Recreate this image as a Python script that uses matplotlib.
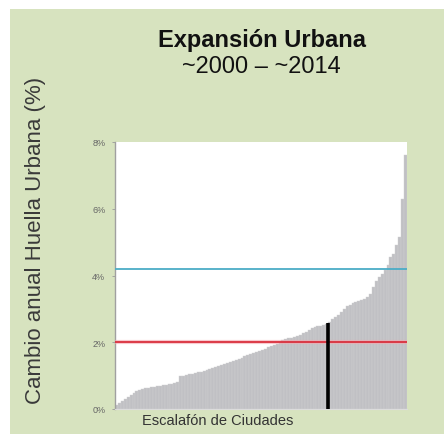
import matplotlib
matplotlib.use("Agg")
import matplotlib.pyplot as plt
from matplotlib.patches import Rectangle

# Annual change in urban footprint (%), cities ranked ascending
values = [0.12, 0.18, 0.24, 0.30, 0.36, 0.42, 0.48, 0.53, 0.58, 0.60,
          0.62, 0.63, 0.65, 0.66, 0.68, 0.70, 0.71, 0.73, 0.75, 0.76,
          0.78, 0.80, 0.98, 1.00, 1.02, 1.04, 1.06, 1.08, 1.10, 1.12,
          1.15, 1.18, 1.20, 1.23, 1.26, 1.29, 1.31, 1.34, 1.37, 1.40,
          1.43, 1.47, 1.51, 1.54, 1.58, 1.62, 1.66, 1.69, 1.72, 1.75,
          1.78, 1.81, 1.85, 1.88, 1.92, 1.96, 2.00, 2.08, 2.10, 2.12,
          2.14, 2.17, 2.20, 2.23, 2.27, 2.32, 2.38, 2.42, 2.45, 2.48,
          2.50, 2.52, 2.55, 2.62, 2.70, 2.76, 2.82, 2.90, 3.00, 3.08,
          3.12, 3.18, 3.22, 3.24, 3.26, 3.30, 3.35, 3.45, 3.65, 3.85,
          3.95, 4.05, 4.15, 4.30, 4.55, 4.65, 4.90, 5.15, 6.30, 7.60]
ranks = list(range(len(values)))

blue_level = 4.2
red_level = 2.0
marker_rank = 72.5
marker_value = 2.57

yticks = [0, 2, 4, 6, 8]
ytick_labels = ["0%", "2%", "4%", "6%", "8%"]

title = "Expansión Urbana"
subtitle = "~2000 – ~2014"
ylabel = "Cambio anual Huella Urbana (%)"
xlabel = "Escalafón de Ciudades"

W, H = 444, 435
green = "#d7e3bf"
fig = plt.figure(figsize=(W / 100, H / 100), dpi=100, facecolor=green)
# white margins at top and left
fig.add_artist(Rectangle((0, 0), 10 / W, 1, transform=fig.transFigure,
                         facecolor="white", edgecolor="none", zorder=-5))
fig.add_artist(Rectangle((0, 1 - 10 / H), 1, 10 / H, transform=fig.transFigure,
                         facecolor="white", edgecolor="none", zorder=-5))

ax = fig.add_axes([115 / W, 1 - 410 / H, (407 - 115) / W, (410 - 143) / H])
ax.set_facecolor("white")
ax.bar(ranks, values, width=1.0, color="#c0c0c4", edgecolor="#cfcfd2",
       linewidth=0.3, zorder=2)
ax.axhline(blue_level, color="#4bacc6", lw=1.3, zorder=3)
ax.axhline(red_level, color="#f4a8b0", lw=3.0, alpha=0.6, zorder=3)
ax.axhline(red_level, color="#d9303c", lw=1.3, zorder=3)
ax.vlines(marker_rank, 0, marker_value, color="black", lw=2.6, zorder=4)

ax.set_xlim(-0.5, len(values) - 0.5)
ax.set_ylim(0, 8)
ax.set_xticks([])
ax.set_yticks(yticks)
ax.set_yticklabels(ytick_labels, fontsize=6.5, color="#666666",
                   family="Liberation Sans")
ax.tick_params(axis="y", length=2, width=0.6, color="#999999", pad=5)
for s in ["top", "right"]:
    ax.spines[s].set_visible(False)
ax.spines["left"].set_color("#a0a0a0")
ax.spines["left"].set_linewidth(1.0)
ax.spines["bottom"].set_color("#dcdcdc")
ax.spines["bottom"].set_linewidth(0.8)

fig.text(262 / W, 1 - 40 / H, title, ha="center", va="center",
         fontsize=17, fontweight="bold", color="#111111",
         family="Liberation Sans")
fig.text(261 / W, 1 - 67 / H, subtitle, ha="center", va="center",
         fontsize=17, color="#111111", family="Liberation Sans")
fig.text(36 / W, 1 - 240 / H, ylabel, ha="center", va="center",
         rotation=90, fontsize=16, color="#3a3a3a", family="Liberation Sans")
fig.text(218 / W, 1 - 421 / H, xlabel, ha="center", va="center",
         fontsize=10.5, color="#333333", family="Liberation Sans")

fig.savefig("out.png", dpi=100, facecolor=green)
